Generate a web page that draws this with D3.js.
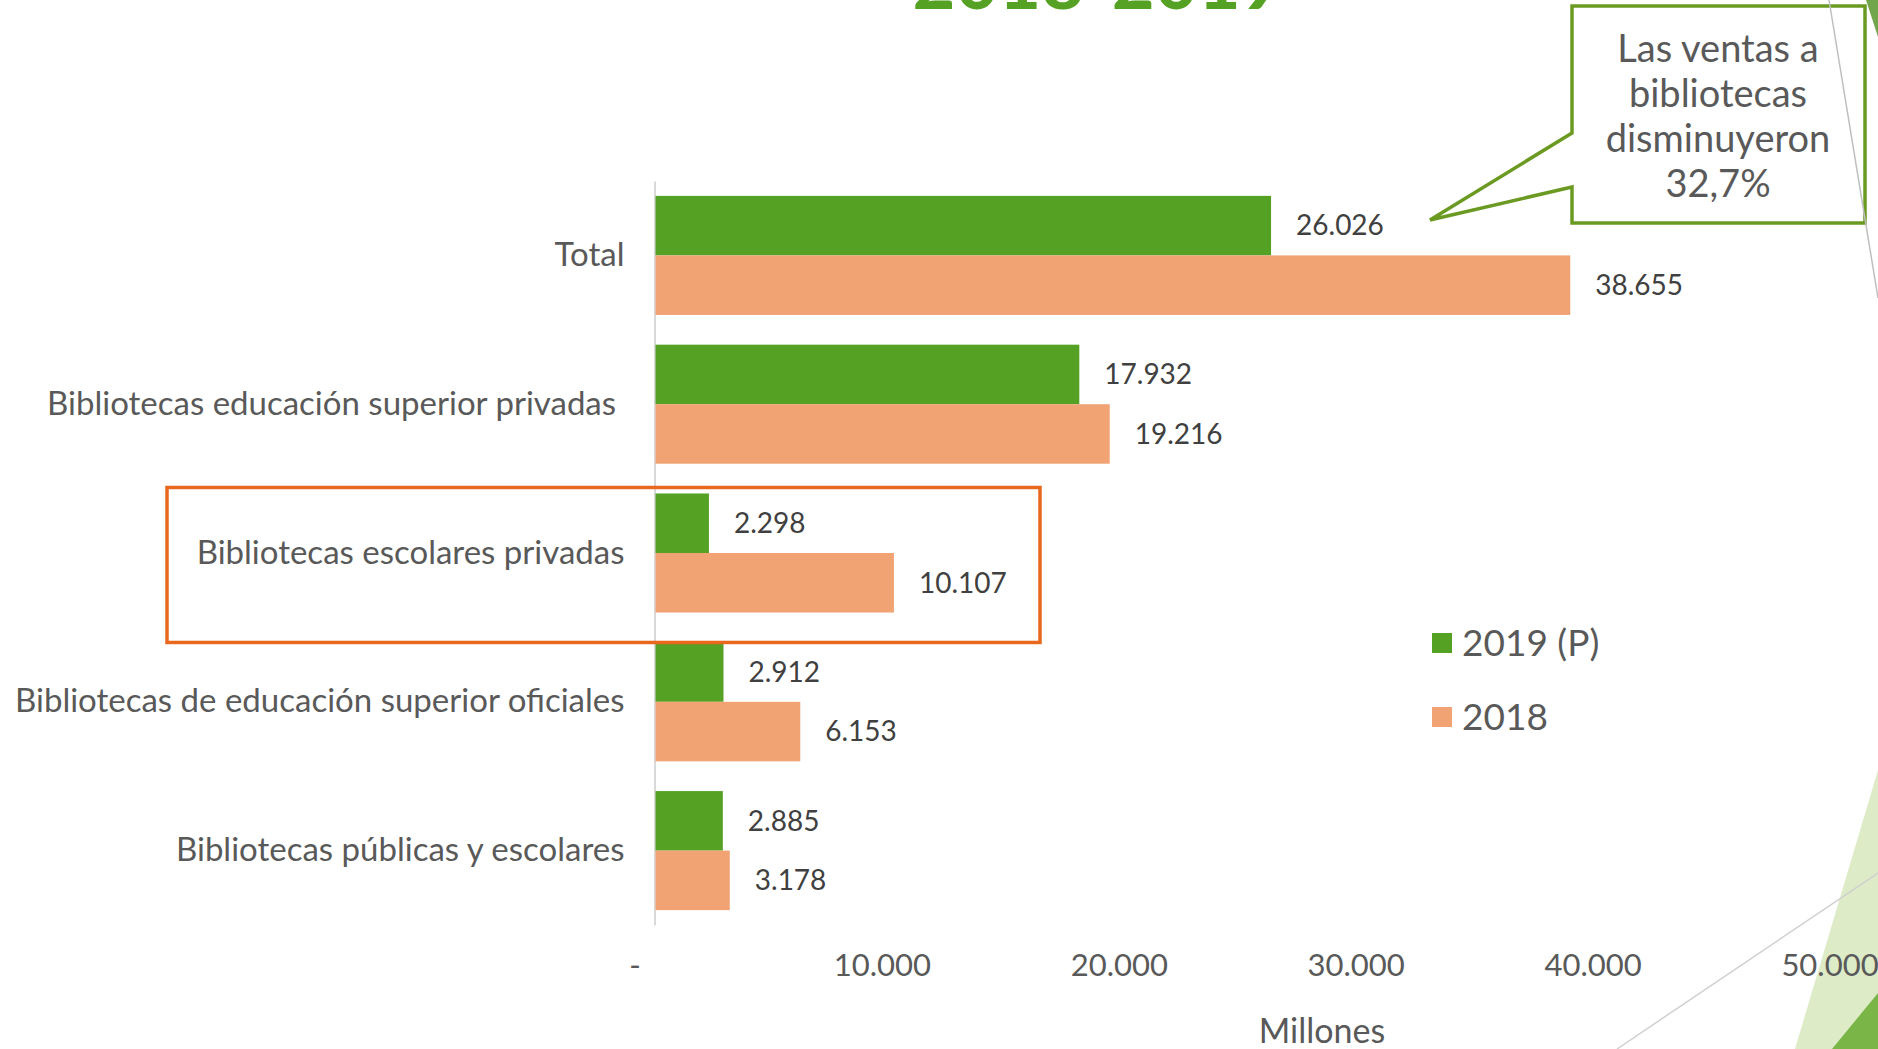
<!DOCTYPE html>
<html lang="es">
<head>
<meta charset="utf-8">
<script src="https://cdn.jsdelivr.net/npm/d3@7"></script>
<style>
  body { margin: 0; overflow: hidden; background: #fff; }
  text { font-family: Lato, "Open Sans", sans-serif; }
</style>
</head>
<body>
<script>
// Datos del gráfico (millones de pesos)
const categorias = [
  "Total",
  "Bibliotecas educación superior privadas ",
  "Bibliotecas escolares privadas",
  "Bibliotecas de educación superior oficiales",
  "Bibliotecas públicas y escolares",
];
const ventas2019 = [26026, 17932, 2298, 2912, 2885];
const ventas2018 = [38655, 19216, 10107, 6153, 3178];
const series = ["2019 (P)", "2018"];
const colores = ["#55A123", "#F1A374"];
const ticksX = [0, 10000, 20000, 30000, 40000, 50000];
const textoNota = ["Las ventas a", "bibliotecas", "disminuyeron", "32,7%"];
const titulo = "2018-2019";
const categoriaResaltada = "Bibliotecas escolares privadas";

const WIDTH = 1878;
const HEIGHT = 1049;
const TXT = "#595959";

// Formato con punto como separador de miles
const locale = d3.formatLocale({ decimal: ",", thousands: ".", grouping: [3], currency: ["$", ""] });
const fmt = locale.format(",d");

const datos = categorias.map((c, i) => ({ categoria: c, valores: [ventas2019[i], ventas2018[i]] }));

const svg = d3.select("body")
  .append("svg")
  .attr("width", WIDTH)
  .attr("height", HEIGHT);

// Decoración de la plantilla (esquinas)
svg.append("polygon").attr("points", "1878,770 1795,1049 1878,1049").attr("fill", "#DDEBC7");
svg.append("polygon").attr("points", "1832,1049 1878,993 1878,1049").attr("fill", "#7AB547");
svg.append("line").attr("x1", 1617).attr("y1", 1049).attr("x2", 1878).attr("y2", 873)
  .attr("stroke", "#D0D0D0").attr("stroke-width", 1.5);
svg.append("polygon").attr("points", "1866,0 1878,0 1878,37").attr("fill", "#72A64C");

// Título (cortado arriba, como en la diapositiva)
svg.append("text")
  .attr("x", 1098).attr("y", 9)
  .attr("text-anchor", "middle")
  .attr("font-size", 74).attr("font-weight", "bold")
  .attr("fill", "#55A123")
  .text(titulo);

// Escalas
const x = d3.scaleLinear().domain([0, 50000]).range([654.5, 1839]);
const y = d3.scaleBand().domain(categorias).range([181, 925]).paddingInner(0.2).paddingOuter(0.1);
const ySerie = d3.scaleBand().domain(series).range([0, y.bandwidth()]);

// Eje X (sin línea, solo etiquetas)
const ejeX = svg.append("g")
  .attr("transform", `translate(0, 953)`)
  .call(d3.axisBottom(x).tickValues(ticksX).tickSize(0).tickPadding(0)
    .tickFormat((d) => (d === 0 ? "-" : fmt(d))));
ejeX.select(".domain").remove();
ejeX.selectAll("text")
  .attr("font-size", 31).attr("fill", TXT)
  .attr("dy", "0.74em")
  .attr("dx", (d) => (d === 0 ? -20 : -9.5))
  .style("font-family", "Lato, sans-serif");

// Eje Y con categorías
const ejeY = svg.append("g")
  .attr("transform", `translate(${x(0)}, 0)`)
  .call(d3.axisLeft(y).tickSize(0).tickPadding(30));
ejeY.select(".domain").attr("stroke", "#D9D9D9").attr("stroke-width", 2);
ejeY.selectAll("text")
  .attr("font-size", 33).attr("fill", TXT)
  .style("white-space", "pre")
  .style("font-family", "Lato, sans-serif");

// Barras
const grupos = svg.append("g")
  .selectAll("g")
  .data(datos)
  .join("g")
  .attr("transform", (d) => `translate(0, ${y(d.categoria)})`);

grupos.selectAll("rect")
  .data((d) => d.valores.map((v, i) => ({ serie: series[i], valor: v, color: colores[i] })))
  .join("rect")
  .attr("x", x(0) + 1)
  .attr("y", (d) => ySerie(d.serie))
  .attr("width", (d) => x(d.valor) - x(0) - 1)
  .attr("height", ySerie.bandwidth())
  .attr("fill", (d) => d.color);

grupos.selectAll("text")
  .data((d) => d.valores.map((v, i) => ({ serie: series[i], valor: v })))
  .join("text")
  .attr("x", (d) => x(d.valor) + 25)
  .attr("y", (d) => ySerie(d.serie) + ySerie.bandwidth() / 2)
  .attr("dy", "0.35em")
  .attr("font-size", 28)
  .attr("fill", "#404040")
  .text((d) => fmt(d.valor));

// Recuadro naranja de resaltado
svg.append("rect")
  .attr("x", 167)
  .attr("y", y(categoriaResaltada) - 6)
  .attr("width", 873)
  .attr("height", 155)
  .attr("fill", "none")
  .attr("stroke", "#E8691E")
  .attr("stroke-width", 3.5);

// Leyenda
const leyenda = svg.append("g")
  .selectAll("g")
  .data(series)
  .join("g")
  .attr("transform", (d, i) => `translate(1432, ${633 + i * 74})`);
leyenda.append("rect").attr("width", 20).attr("height", 20).attr("fill", (d, i) => colores[i]);
leyenda.append("text")
  .attr("x", 30).attr("y", 10).attr("dy", "0.36em")
  .attr("font-size", 37).attr("fill", TXT)
  .text((d) => d);

// Título del eje
svg.append("text")
  .attr("x", 1322).attr("y", 1043)
  .attr("text-anchor", "middle")
  .attr("font-size", 34).attr("fill", TXT)
  .text("Millones");

// Nota tipo globo
svg.append("path")
  .attr("d", "M1572,6 H1865 V223 H1572 V187 L1430,220 L1572,133 Z")
  .attr("fill", "#fff")
  .attr("stroke", "#6B9A22")
  .attr("stroke-width", 3.5)
  .attr("stroke-linejoin", "miter");

svg.append("text")
  .attr("text-anchor", "middle")
  .attr("font-size", 38).attr("fill", TXT)
  .selectAll("tspan")
  .data(textoNota)
  .join("tspan")
  .attr("x", 1718)
  .attr("y", (d, i) => 62 + i * 45)
  .text((d) => d);

svg.append("line").attr("x1", 1829).attr("y1", 0).attr("x2", 1878).attr("y2", 298)
  .attr("stroke", "#BFBFBF").attr("stroke-width", 1.5);
</script>
</body>
</html>
